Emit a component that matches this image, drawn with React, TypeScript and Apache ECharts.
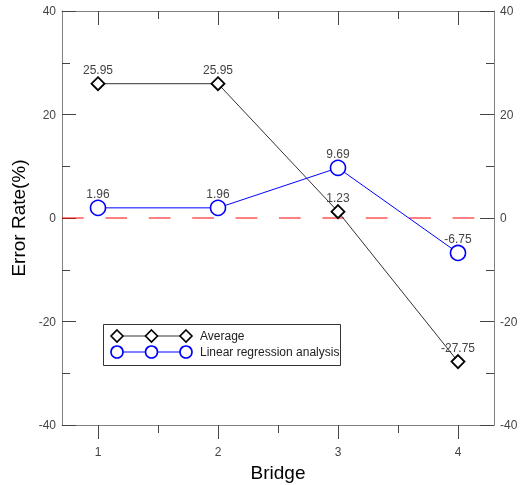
import React, { useEffect, useRef } from "react";
import * as echarts from "echarts";

const bridges = [1, 2, 3, 4];
const averageValues = [25.95, 25.95, 1.23, -27.75];
const regressionValues = [1.96, 1.96, 9.69, -6.75];
const xMajorTicks = [1, 2, 3, 4];
const xMinorTicks = [1.5, 2.5, 3.5];
const xRange = [0.7, 4.3];
const seriesNames = ["Average", "Linear regression analysis"];
const referenceLevel = 0;

const FONT = "Liberation Sans, Arial, sans-serif";
const AXIS_COLOR = "#808080";
const TICK_COLOR = "#444";
const LABEL_COLOR = "#444";

export default function App() {
  const ref = useRef<HTMLDivElement>(null);
  useEffect(() => {
    if (!ref.current) return;
    const chart = echarts.init(ref.current, null, { renderer: "svg" });
    const xBase = { type: "value", min: xRange[0], max: xRange[1], splitLine: { show: false } };
    const yBase = {
      type: "value", min: -40, max: 40, interval: 20,
      splitLine: { show: false },
      axisLine: { show: true, onZero: false, lineStyle: { color: AXIS_COLOR, width: 1 } },
      axisTick: { show: true, inside: true, length: 14, lineStyle: { color: TICK_COLOR } },
      minorTick: { show: true, splitNumber: 2, length: 8, lineStyle: { color: TICK_COLOR } },
      axisLabel: { color: LABEL_COLOR, fontSize: 12, fontFamily: FONT, margin: 6 },
    };
    const diamond = (cx: number, cy: number) => ({
      type: "polygon",
      shape: { points: [[cx, cy - 6], [cx + 6, cy], [cx, cy + 6], [cx - 6, cy]] },
      style: { fill: "#fff", stroke: "#000", lineWidth: 1.6 },
      z: 101,
    });
    const circ = (cx: number, cy: number) => ({
      type: "circle",
      shape: { cx, cy, r: 6 },
      style: { fill: "#fff", stroke: "#0000ff", lineWidth: 1.6 },
      z: 101,
    });
    const lx = [117, 151.5, 186];
    const r1 = 336, r2 = 352;
    chart.setOption({
      animation: false,
      grid: { left: 62, right: 26, top: 11, bottom: 60, containLabel: false, outerBoundsMode: "none" },
      xAxis: [
        {
          ...xBase, position: "bottom",
          name: "Bridge", nameLocation: "middle", nameGap: 32,
          nameTextStyle: { fontSize: 19, fontFamily: FONT, color: "#000" },
          axisLine: { show: true, onZero: false, lineStyle: { color: AXIS_COLOR } },
          axisTick: { show: true, length: 14, customValues: xMajorTicks, lineStyle: { color: TICK_COLOR } },
          axisLabel: { customValues: xMajorTicks, color: LABEL_COLOR, fontSize: 12, fontFamily: FONT, margin: 21 },
        },
        {
          ...xBase, position: "bottom",
          axisLine: { show: false, onZero: false },
          axisTick: { show: true, length: 8, customValues: xMinorTicks, lineStyle: { color: TICK_COLOR } },
          axisLabel: { show: false },
        },
        {
          ...xBase, position: "top",
          axisLine: { show: true, onZero: false, lineStyle: { color: AXIS_COLOR } },
          axisTick: { show: true, inside: true, length: 14, customValues: xMajorTicks, lineStyle: { color: TICK_COLOR } },
          axisLabel: { show: false },
        },
        {
          ...xBase, position: "top",
          axisLine: { show: false, onZero: false },
          axisTick: { show: true, inside: true, length: 8, customValues: xMinorTicks, lineStyle: { color: TICK_COLOR } },
          axisLabel: { show: false },
        },
      ],
      yAxis: [
        {
          ...yBase, position: "left",
          name: "Error Rate(%)", nameLocation: "middle", nameGap: 31,
          nameTextStyle: { fontSize: 19, fontFamily: FONT, color: "#000" },
        },
        { ...yBase, position: "right" },
      ],
      series: [
        {
          name: "reference",
          type: "line",
          data: xRange.map((x) => [x, referenceLevel]),
          symbol: "none",
          silent: true,
          lineStyle: { color: "#ff0000", type: [21.7, 21.7], width: 1 },
          itemStyle: { color: "#ff0000" },
          z: 1,
        },
        {
          name: seriesNames[0],
          type: "line",
          data: bridges.map((b, i) => [b, averageValues[i]]),
          symbol: "diamond",
          symbolSize: 13,
          itemStyle: { color: "#fff", borderColor: "#000", borderWidth: 1.8 },
          lineStyle: { color: "#333", width: 1 },
          label: {
            show: true, position: "top", distance: 0,
            color: LABEL_COLOR, fontSize: 12, fontFamily: FONT,
            formatter: (p: any) => averageValues[p.dataIndex].toFixed(2),
          },
          z: 3,
        },
        {
          name: seriesNames[1],
          type: "line",
          data: bridges.map((b, i) => [b, regressionValues[i]]),
          symbol: "circle",
          symbolSize: 15,
          itemStyle: { color: "#fff", borderColor: "#0000ff", borderWidth: 1.6 },
          lineStyle: { color: "#0000ff", width: 1 },
          label: {
            show: true, position: "top", distance: 0,
            color: LABEL_COLOR, fontSize: 12, fontFamily: FONT,
            formatter: (p: any) => regressionValues[p.dataIndex].toFixed(2),
          },
          z: 4,
        },
      ],
      graphic: [
        {
          type: "rect",
          shape: { x: 103.5, y: 324.5, width: 237, height: 41 },
          style: { fill: "#fff", stroke: "#333", lineWidth: 1 },
          z: 100,
        },
        { type: "line", shape: { x1: lx[0], y1: r1, x2: lx[2], y2: r1 }, style: { stroke: "#333", lineWidth: 1 }, z: 100 },
        { type: "line", shape: { x1: lx[0], y1: r2, x2: lx[2], y2: r2 }, style: { stroke: "#0000ff", lineWidth: 1 }, z: 100 },
        ...lx.map((x) => diamond(x, r1)),
        ...lx.map((x) => circ(x, r2)),
        {
          type: "text", x: 200, y: r1,
          style: { text: seriesNames[0], fill: "#222", font: `12px ${FONT}`, verticalAlign: "middle" },
          z: 101,
        },
        {
          type: "text", x: 200, y: r2,
          style: { text: seriesNames[1], fill: "#222", font: `12px ${FONT}`, verticalAlign: "middle" },
          z: 101,
        },
      ],
    });
    return () => chart.dispose();
  }, []);
  return (
    <div
      ref={ref}
      style={{ position: "fixed", left: 0, top: 0, width: 520, height: 485 }}
    />
  );
}
